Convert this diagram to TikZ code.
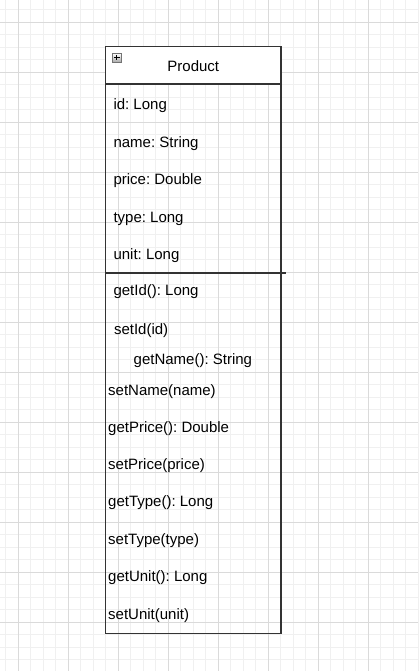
\documentclass[tikz,border=0pt]{standalone}
\usepackage{fontspec}
\setmainfont{Liberation Sans}
\frenchspacing
\definecolor{gridminor}{HTML}{F0F0F0}
\definecolor{gridmajor}{HTML}{DADADA}
\definecolor{umlline}{HTML}{333333}

\begin{document}
\begin{tikzpicture}[x=1pt, y=-1pt, font=\fontsize{15}{18}\selectfont,
  member/.style={anchor=base west, inner sep=0pt, text=black},
  umlbox/.style={draw=umlline, line width=1.4pt}]

\useasboundingbox (0,0) rectangle (418,671);

% background grid
\foreach \k in {0,...,33}
  \draw[gridminor, line width=0.9pt] (5.8+12.5*\k,0) -- (5.8+12.5*\k,671);
\foreach \k in {0,...,53}
  \draw[gridminor, line width=0.9pt] (0,9.8+12.5*\k) -- (418,9.8+12.5*\k);
\foreach \k in {0,...,7}
  \draw[gridmajor, line width=0.9pt] (18.3+50*\k,0) -- (18.3+50*\k,671);
\foreach \k in {0,...,12}
  \draw[gridmajor, line width=0.9pt] (0,22.3+50*\k) -- (418,22.3+50*\k);

% class box
\fill[white] (105.7,46.7) rectangle (281,84);
\draw[umlbox] (105.7,46.7) rectangle (281,633.5);
\draw[umlbox] (105.7,84) -- (281,84);
\draw[umlbox] (105.7,273) -- (285.7,273);

% expand icon
\shade[top color=white, bottom color=black!35, draw=black!55, line width=0.6pt]
  (112,53) rectangle (121.5,62.5);
\draw[black, line width=1pt] (116.75,55) -- (116.75,60.5);
\draw[black, line width=1pt] (114,57.75) -- (119.5,57.75);

\node (title) [anchor=base, inner sep=0pt] at (193.3,71.7) {Product};

% attributes
\node (id)    [member] at (113.3,109.3) {id: Long};
\node (name)  [member] at (113.3,147.3) {name: String};
\node (price) [member] at (113.3,184.5) {price: Double};
\node (type)  [member] at (113.3,222) {type: Long};
\node (unit)  [member] at (113.3,259.3) {unit: Long};

% operations
\node (getid)    [member] at (113.3,295.5) {getId(): Long};
\node (setid)    [member] at (113.8,334) {setId(id)};
\node (getname)  [member] at (133.5,364) {getName(): String};
\node (setname)  [member] at (108,395) {setName(name)};
\node (getprice) [member] at (108,432.3) {getPrice(): Double};
\node (setprice) [member] at (108,469.5) {setPrice(price)};
\node (gettype)  [member] at (108,506.8) {getType(): Long};
\node (settype)  [member] at (108,544.3) {setType(type)};
\node (getunit)  [member] at (108,581.7) {getUnit(): Long};
\node (setunit)  [member] at (108,619) {setUnit(unit)};

\end{tikzpicture}
\end{document}
